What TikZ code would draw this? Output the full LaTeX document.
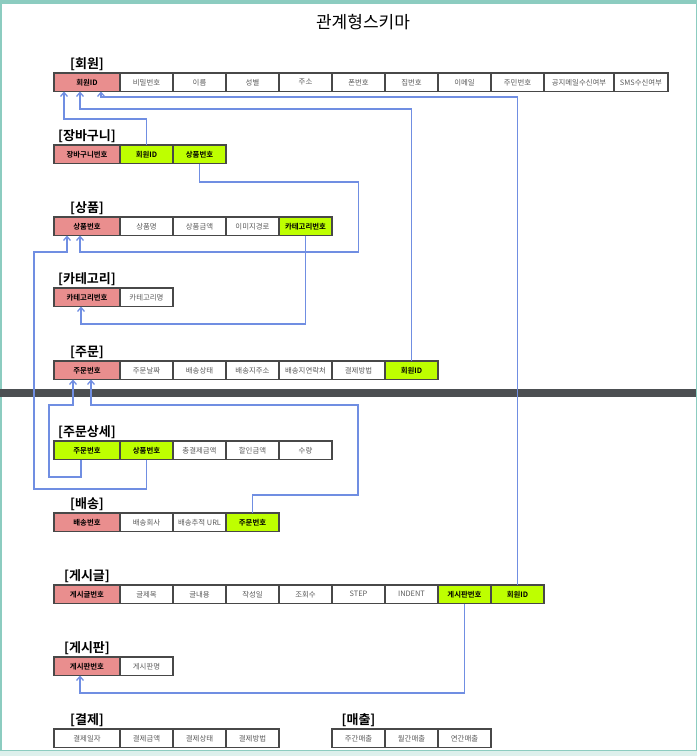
\documentclass[tikz,border=0pt]{standalone}
\usepackage{fontspec}
\setmainfont{Noto Sans CJK KR}[BoldFont={Noto Sans CJK KR Bold}]
\usepackage{xcolor}
\usepackage{tikz}
\usetikzlibrary{arrows.meta,positioning}
\definecolor{pkred}{RGB}{233,142,142}
\definecolor{fkgreen}{RGB}{190,255,0}
\definecolor{linkblue}{RGB}{112,142,226}
\definecolor{cellborder}{RGB}{72,72,72}
\definecolor{frameteal}{RGB}{140,204,192}
\definecolor{breakgray}{RGB}{76,79,82}
\tikzset{
  cell/.style={rectangle, draw=cellborder, line width=1.4pt, minimum width=53pt, minimum height=18.5pt, inner sep=0pt, outer sep=0pt, font=\fontsize{7.4}{8}\selectfont, text=black!65},
  keycell/.style={cell, minimum width=66pt},
  pkcell/.style={keycell, fill=pkred, text=black, font=\fontsize{7.4}{8}\selectfont\bfseries},
  fkcell/.style={cell, fill=fkgreen, text=black, font=\fontsize{7.4}{8}\selectfont\bfseries},
  tname/.style={font=\fontsize{13}{14}\selectfont\bfseries, inner sep=1pt},
  link/.style={draw=linkblue, line width=1.3pt, -{Straight Barb[length=4pt,width=7pt]}},
}

\begin{document}
\begin{tikzpicture}[x=1pt, y=1pt]
  \useasboundingbox (0,0) rectangle (697,-756);
  % page frame and page break
  \fill[frameteal] (0,0) rectangle (697,-4);
  \fill[frameteal] (0,0) rectangle (1.5,-756);
  \fill[frameteal] (695.5,0) rectangle (697,-756);
  \fill[frameteal!30] (0,-750) rectangle (697,-756);
  \draw[frameteal, line width=1pt] (0,-750) -- (697,-750);
  \fill[breakgray] (0,-389) rectangle (695.5,-397);

  \node[font=\fontsize{17}{18}\selectfont] (title) at (363,-22) {관계형스키마};

  % member
  \node[pkcell, anchor=north west] (mem1) at (54,-73) {회원ID};
  \node[cell, right=0pt of mem1] (mem2) {비밀번호};
  \node[cell, right=0pt of mem2] (mem3) {이름};
  \node[cell, right=0pt of mem3] (mem4) {성별};
  \node[cell, right=0pt of mem4] (mem5) {주소};
  \node[cell, right=0pt of mem5] (mem6) {폰번호};
  \node[cell, right=0pt of mem6] (mem7) {집번호};
  \node[cell, right=0pt of mem7] (mem8) {이메일};
  \node[cell, right=0pt of mem8] (mem9) {주민번호};
  \node[cell, right=0pt of mem9, minimum width=70pt] (mem10) {공지메일수신여부};
  \node[cell, right=0pt of mem10, minimum width=54pt] (mem11) {SMS수신여부};
  \node[tname, above=1pt of mem1] {[회원]};

  % cart
  \node[pkcell, anchor=north west] (cart1) at (54,-145) {장바구니번호};
  \node[fkcell, right=0pt of cart1] (cart2) {회원ID};
  \node[fkcell, right=0pt of cart2] (cart3) {상품번호};
  \node[tname, above=1pt of cart1] {[장바구니]};

  % product
  \node[pkcell, anchor=north west] (prod1) at (54,-217) {상품번호};
  \node[cell, right=0pt of prod1] (prod2) {상품명};
  \node[cell, right=0pt of prod2] (prod3) {상품금액};
  \node[cell, right=0pt of prod3] (prod4) {이미지경로};
  \node[fkcell, right=0pt of prod4] (prod5) {카테고리번호};
  \node[tname, above=1pt of prod1] {[상품]};

  % category
  \node[pkcell, anchor=north west] (cat1) at (54,-288) {카테고리번호};
  \node[cell, right=0pt of cat1] (cat2) {카테고리명};
  \node[tname, above=1pt of cat1] {[카테고리]};

  % order
  \node[pkcell, anchor=north west] (ord1) at (54,-361) {주문번호};
  \node[cell, right=0pt of ord1] (ord2) {주문날짜};
  \node[cell, right=0pt of ord2] (ord3) {배송상태};
  \node[cell, right=0pt of ord3] (ord4) {배송지주소};
  \node[cell, right=0pt of ord4] (ord5) {배송지연락처};
  \node[cell, right=0pt of ord5] (ord6) {결제방법};
  \node[fkcell, right=0pt of ord6] (ord7) {회원ID};
  \node[tname, above=1pt of ord1] {[주문]};

  % order detail
  \node[fkcell, minimum width=66pt, anchor=north west] (det1) at (54,-441) {주문번호};
  \node[fkcell, right=0pt of det1] (det2) {상품번호};
  \node[cell, right=0pt of det2] (det3) {총결제금액};
  \node[cell, right=0pt of det3] (det4) {할인금액};
  \node[cell, right=0pt of det4] (det5) {수량};
  \node[tname, above=1pt of det1] {[주문상세]};

  % delivery
  \node[pkcell, anchor=north west] (dlv1) at (54,-513) {배송번호};
  \node[cell, right=0pt of dlv1] (dlv2) {배송회사};
  \node[cell, right=0pt of dlv2] (dlv3) {배송추적 URL};
  \node[fkcell, right=0pt of dlv3] (dlv4) {주문번호};
  \node[tname, above=1pt of dlv1] {[배송]};

  % post
  \node[pkcell, anchor=north west] (post1) at (54,-585) {게시글번호};
  \node[cell, right=0pt of post1] (post2) {글제목};
  \node[cell, right=0pt of post2] (post3) {글내용};
  \node[cell, right=0pt of post3] (post4) {작성일};
  \node[cell, right=0pt of post4] (post5) {조회수};
  \node[cell, right=0pt of post5] (post6) {STEP};
  \node[cell, right=0pt of post6] (post7) {INDENT};
  \node[fkcell, right=0pt of post7] (post8) {게시판번호};
  \node[fkcell, right=0pt of post8] (post9) {회원ID};
  \node[tname, above=1pt of post1] {[게시글]};

  % board
  \node[pkcell, anchor=north west] (board1) at (54,-657) {게시판번호};
  \node[cell, right=0pt of board1] (board2) {게시판명};
  \node[tname, above=1pt of board1] {[게시판]};

  % payment
  \node[keycell, anchor=north west] (pay1) at (54,-729) {결제일자};
  \node[cell, right=0pt of pay1] (pay2) {결제금액};
  \node[cell, right=0pt of pay2] (pay3) {결제상태};
  \node[cell, right=0pt of pay3] (pay4) {결제방법};
  \node[tname, above=1pt of pay1] {[결제]};

  % sales
  \node[cell, anchor=north west] (sale1) at (332,-729) {주간매출};
  \node[cell, right=0pt of sale1] (sale2) {월간매출};
  \node[cell, right=0pt of sale2] (sale3) {연간매출};
  \node[tname, above=1pt of sale1] {[매출]};

  % foreign keys
  \draw[link] (cart2.north) -- ++(0,26) -| ([xshift=10pt]mem1.south west);
  \draw[link] (ord7.north) -- ++(0,252) -| ([xshift=26pt]mem1.south west);
  \draw[link] (post9.north) -- ++(0,488) -| ([xshift=47pt]mem1.south west);
  \draw[link] (cart3.south) -- ++(0,-18.5) -| ++(159,-70) -| ([xshift=26pt]prod1.south west);
  \draw[link] (prod5.south) -- ++(0,-88.5) -| ([xshift=27pt]cat1.south west);
  \draw[link] (det2.south) -- ++(0,-29.5) -| ++(-112.5,237) -| ([xshift=13pt]prod1.south west);
  \draw[link] ([xshift=27pt]det1.south west) -- ++(0,-17.5) -| ++(-32,72) -| ([xshift=19pt]ord1.south west);
  \draw[link] (dlv4.north) -- ++(0,18) -| ++(105.5,90) -| ([xshift=37pt]ord1.south west);
  \draw[link] (post8.south) -- ++(0,-89.5) -| ([xshift=26pt]board1.south west);

\end{tikzpicture}
\end{document}
